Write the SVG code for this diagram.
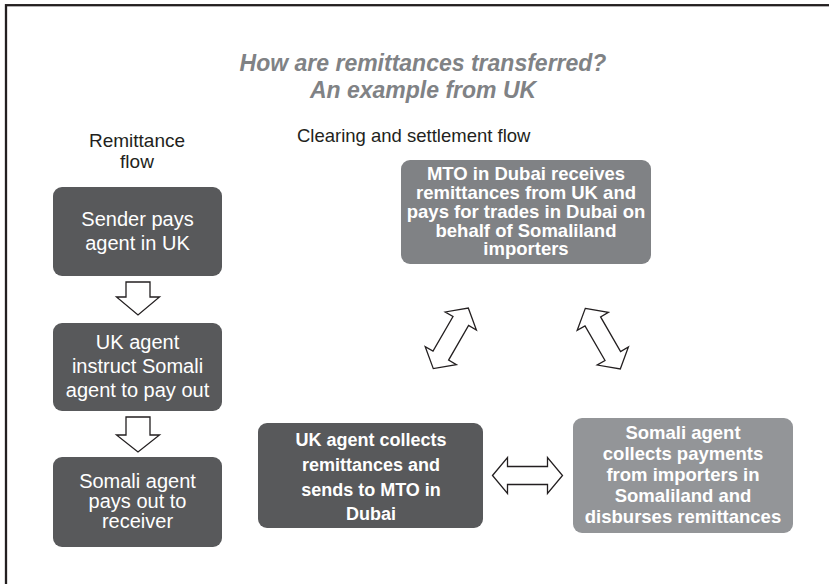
<svg xmlns="http://www.w3.org/2000/svg" width="829" height="584" viewBox="0 0 829 584">
<defs>
<style>
.t{font-family:"Liberation Sans",Arial,sans-serif;text-anchor:middle}
.w{fill:#ffffff}
.b{font-weight:bold}
.arr{fill:#ffffff;stroke:#231f20;stroke-width:1.3;stroke-linejoin:miter}
.dk{fill:#58595b}
</style>
<path id="dbl" d="M-35,0 L-20,-18 L-20,-9 L20,-9 L20,-18 L35,0 L20,18 L20,9 L-20,9 L-20,18 Z"/>
</defs>
<rect width="829" height="584" fill="#ffffff"/>
<rect x="6" y="5.2" width="900" height="700" fill="none" stroke="#231f20" stroke-width="2.3"/>
<g id="title">
<text class="t b" x="423" y="71" font-size="23" font-style="italic" fill="#808285">How are remittances transferred?</text>
<text class="t b" x="423" y="98" font-size="23" font-style="italic" fill="#808285">An example from UK</text>
</g>
<g id="headers" fill="#231f20">
<text class="t" x="137" y="147" font-size="19">Remittance</text>
<text class="t" x="137" y="168" font-size="19">flow</text>
<text x="297" y="142" font-size="18.5" font-family="Liberation Sans, Arial, sans-serif">Clearing and settlement flow</text>
</g>
<g id="sender">
<rect class="dk" x="53" y="187" width="169" height="89" rx="9"/>
<text class="t w" x="137.5" font-size="20"><tspan x="137.5" y="226">Sender pays</tspan><tspan x="137.5" y="250">agent in UK</tspan></text>
</g>
<g id="ukagent">
<rect class="dk" x="53" y="323" width="169" height="88" rx="9"/>
<text class="t w" x="137.5" font-size="20"><tspan x="137.5" y="349">UK agent</tspan><tspan x="137.5" y="373">instruct Somali</tspan><tspan x="137.5" y="397">agent to pay out</tspan></text>
</g>
<g id="somalipay">
<rect class="dk" x="53" y="457" width="169" height="90" rx="9"/>
<text class="t w" x="137.5" font-size="20"><tspan x="137.5" y="488">Somali agent</tspan><tspan x="137.5" y="508">pays out to</tspan><tspan x="137.5" y="528">receiver</tspan></text>
</g>
<g id="mto">
<rect x="401" y="160" width="250" height="104" rx="9" fill="#808285"/>
<text class="t w b" x="526" font-size="18.5"><tspan x="526" y="180">MTO in Dubai receives</tspan><tspan x="526" y="199">remittances from UK and</tspan><tspan x="526" y="218">pays for trades in Dubai on</tspan><tspan x="526" y="237">behalf of Somaliland</tspan><tspan x="526" y="255">importers</tspan></text>
</g>
<g id="ukcollect">
<rect class="dk" x="258" y="423" width="225" height="105" rx="9"/>
<text class="t w b" x="371" font-size="18"><tspan x="371" y="446">UK agent collects</tspan><tspan x="371" y="471">remittances and</tspan><tspan x="371" y="496">sends to MTO in</tspan><tspan x="371" y="520">Dubai</tspan></text>
</g>
<g id="somalicollect">
<rect x="573" y="418" width="220" height="115" rx="9" fill="#939598"/>
<text class="t w b" x="683" font-size="18.5"><tspan x="683" y="439">Somali agent</tspan><tspan x="683" y="460">collects payments</tspan><tspan x="683" y="481">from importers in</tspan><tspan x="683" y="502">Somaliland and</tspan><tspan x="683" y="523">disburses remittances</tspan></text>
</g>
<g id="connectors">
<path class="arr" d="M126,282 H150 V297 H159.5 L138,315 L116.5,297 H126 Z"/>
<path class="arr" d="M126,417 H150 V435 H159.5 L138,452 L116.5,435 H126 Z"/>
<use href="#dbl" class="arr" transform="translate(450.8,338.3) rotate(-60)"/>
<use href="#dbl" class="arr" transform="translate(602.8,338.7) rotate(60)"/>
<use href="#dbl" class="arr" transform="translate(527.5,475.5)"/>
</g>
</svg>
